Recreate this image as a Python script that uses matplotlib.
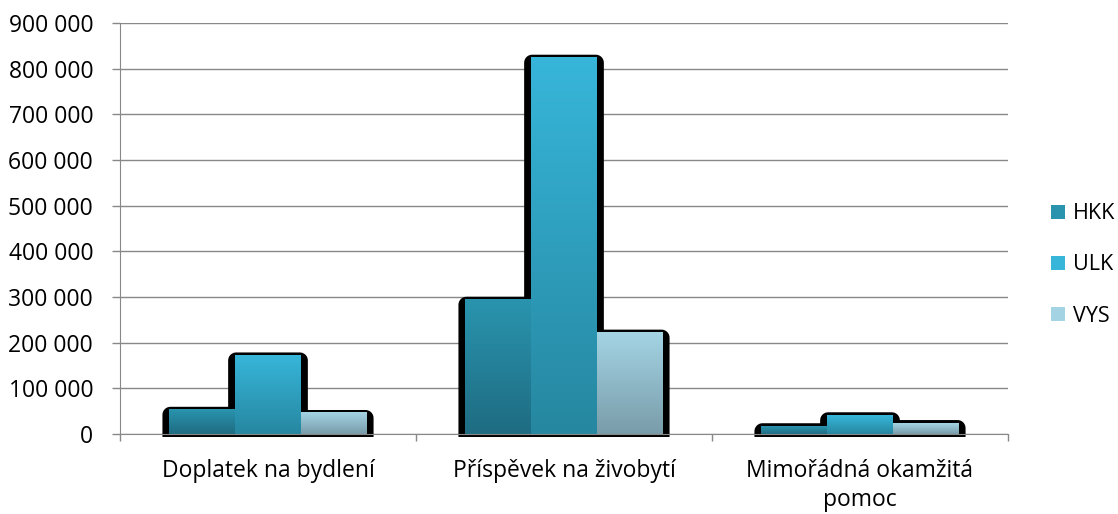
import numpy as np
import matplotlib
matplotlib.use("Agg")
import matplotlib.pyplot as plt
from matplotlib.patches import Polygon, Patch
from matplotlib.ticker import FuncFormatter, MultipleLocator
from matplotlib.colors import LinearSegmentedColormap

categories = ["Doplatek na bydlení", "Příspěvek na živobytí", "Mimořádná okamžitá\npomoc"]
series = ["HKK", "ULK", "VYS"]
hkk = [53000, 294000, 17000]
ulk = [172000, 824000, 41000]
vys = [46000, 222000, 24000]
values = [hkk, ulk, vys]
colors_top = ["#2a94ae", "#37b6da", "#a4d4e4"]
colors_bot = ["#1e6c82", "#2687a0", "#799ca9"]

plt.rcParams['font.family'] = ['Open Sans', 'DejaVu Sans']
W, H = 1118, 514
fig = plt.figure(figsize=(W/100, H/100), dpi=100)
L, R, B, T = 120, 1008, 434, 23
ax = fig.add_axes([L/W, (H-B)/H, (R-L)/W, (B-T)/H])
ymax = 900000
ax.set_xlim(0, 3)
ax.set_ylim(0, ymax)

px_x = 3/(R-L)        # data per pixel (x)
px_y = ymax/(B-T)     # data per pixel (y)


def shadow_poly(x0, x1, y0, y1, rpx):
    rx, ry = rpx*px_x, rpx*px_y
    pts = [(x0, y0), (x1, y0)]
    for a in np.linspace(0, np.pi/2, 10):
        pts.append((x1 - rx + rx*np.cos(a), y1 - ry + ry*np.sin(a)))
    for a in np.linspace(np.pi/2, np.pi, 10):
        pts.append((x0 + rx + rx*np.cos(a), y1 - ry + ry*np.sin(a)))
    return pts


bw = 0.222
offs = [-bw, 0, bw]
for si, vals in enumerate(values):
    for ci, v in enumerate(vals):
        xc = ci + 0.5 + offs[si]
        x0 = xc - bw/2
        pts = shadow_poly(x0 - 7*px_x, x0 + bw + 7*px_x, -3*px_y, v + 3*px_y, 8)
        ax.add_patch(Polygon(pts, closed=True, fc="black", ec="none",
                             zorder=2, clip_on=False))
for si, vals in enumerate(values):
    cmap = LinearSegmentedColormap.from_list(series[si], [colors_bot[si], colors_top[si]])
    for ci, v in enumerate(vals):
        xc = ci + 0.5 + offs[si]
        x0 = xc - bw/2
        grad = np.linspace(0, 1, 256).reshape(-1, 1)
        ax.imshow(grad, extent=[x0, x0 + bw, 0, v], origin="lower", cmap=cmap,
                  aspect="auto", interpolation="bicubic", zorder=3)

ax.set_xlim(0, 3)
ax.set_ylim(0, ymax)

ax.yaxis.set_major_locator(MultipleLocator(100000))
ax.yaxis.set_major_formatter(FuncFormatter(lambda v, p: f"{int(v):,}".replace(",", " ")))
ax.grid(axis="y", color="#888888", lw=1.0, zorder=0)
ax.set_axisbelow(True)

ax.set_xticks([0, 1, 2, 3])
ax.set_xticklabels([])
ax.set_xticks([0.5, 1.5, 2.5], minor=True)
ax.set_xticklabels(categories, minor=True, fontsize=16.5, linespacing=1.3)
ax.tick_params(axis="x", which="minor", length=0, pad=18)
ax.tick_params(axis="x", which="major", length=5, color="#888888", width=1)
ax.tick_params(axis="y", length=5.8, color="#888888", width=1, labelsize=16.5, pad=13.5)

for s in ["top", "right"]:
    ax.spines[s].set_visible(False)
ax.spines["left"].set_color("#888888")
ax.spines["bottom"].set_color("#888888")
ax.spines["bottom"].set_zorder(4)

handles = [Patch(fc=colors_top[i], ec="none", label=series[i]) for i in range(3)]
leg = fig.legend(handles=handles, loc="center left", bbox_to_anchor=(1051/W, 1 - 265/H),
                 frameon=False, fontsize=15.5, handlelength=0.65, handleheight=0.65,
                 handletextpad=0.35, labelspacing=1.4, borderpad=0, borderaxespad=0)

fig.savefig("out.png", dpi=100)
